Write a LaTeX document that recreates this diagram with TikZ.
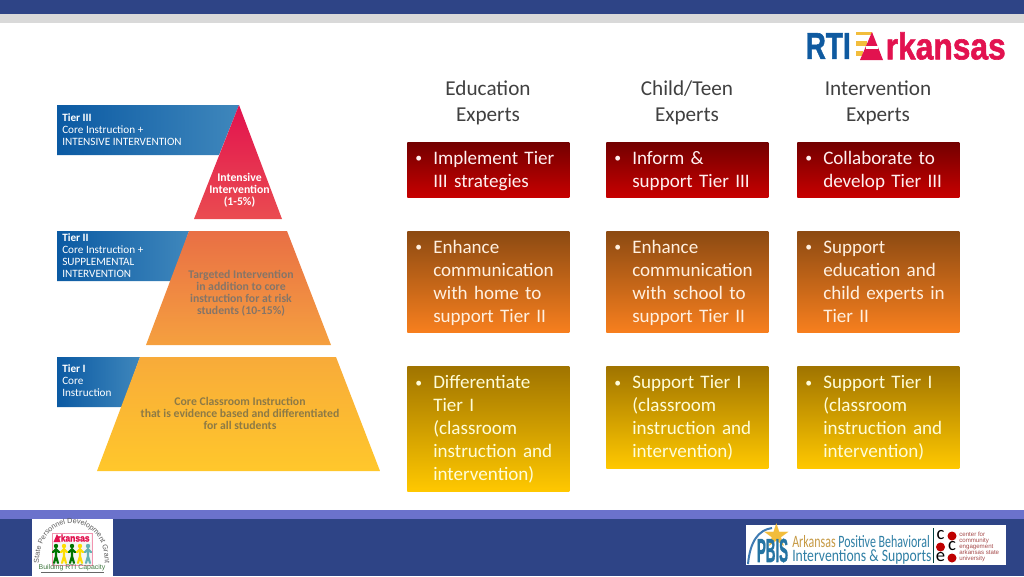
\documentclass[tikz,border=0pt]{standalone}
\usepackage{fontspec}
\usepackage{graphicx}
\setmainfont{Carlito}
\newfontfamily\logofont[FakeBold=1.6]{Liberation Sans Bold}
\newfontfamily\sealfont{Liberation Sans}
\usetikzlibrary{decorations.text}
\definecolor{barblue}{HTML}{2E4486}
\definecolor{barlav}{HTML}{6B72CC}
\definecolor{bargrey}{HTML}{D9D9D9}
\definecolor{bannerdark}{HTML}{0B5AA3}
\definecolor{bannerlight}{HTML}{3F87BC}
\definecolor{logoblue}{HTML}{0F5AA0}
\definecolor{logored}{HTML}{E2124F}
\definecolor{logoyellow}{HTML}{F2BD3C}
\definecolor{headgrey}{HTML}{404040}
\definecolor{pbisgold}{HTML}{C69A45}
\definecolor{pbisteal}{HTML}{2F7FA5}
\definecolor{orangetop}{HTML}{8C4A12}
\definecolor{orangebot}{HTML}{F77F1E}
\definecolor{yellowtop}{HTML}{A07400}
\definecolor{yellowbot}{HTML}{FFC800}
\definecolor{pyrredbot}{HTML}{EA4C50}
\definecolor{pyrorangetop}{HTML}{E96F45}
\definecolor{pyrorangebot}{HTML}{F5A03F}
\definecolor{pyryellowtop}{HTML}{F8AB3A}
\definecolor{pyryellowbot}{HTML}{FFC72B}
\definecolor{pyrtwotext}{HTML}{857568}
\definecolor{pyronetext}{HTML}{8D7A45}
\newcommand{\bul}[1]{\raisebox{-1.2pt}[\height][\depth]{\makebox[13.5pt][l]{\raisebox{1.4pt}{\scalebox{.72}{\textbullet}}}\begin{tabular}[t]{@{}l@{}}#1\end{tabular}}}
\tikzstyle{cell} = [anchor=north west, align=left, text width=109.5pt, inner xsep=6pt, inner ysep=0pt, font={\fontsize{14.3}{17.25}\selectfont}]
\tikzstyle{redcell} = [cell, text=red!6!white, top color=red!45!black, bottom color=red!78!black, minimum height=41.25pt]
\tikzstyle{orangecell} = [cell, text=orange!12!white, top color=orangetop, bottom color=orangebot, minimum height=75.75pt]
\tikzstyle{yellowcell} = [cell, text=yellow!15!white, top color=yellowtop, bottom color=yellowbot, minimum height=76.5pt]
\tikzstyle{tallcell} = [yellowcell, minimum height=93.75pt]
\tikzstyle{head} = [align=center, text=headgrey, font={\fontsize{15.9}{19.5}\selectfont}]
\tikzstyle{tiertext} = [anchor=north west, align=left, text=white, inner sep=0pt, font={\fontsize{8.4}{9}\selectfont}]
\tikzstyle{banner} = [left color=bannerdark, right color=bannerlight]
\tikzstyle{pyrtext} = [align=center, inner sep=0pt, font={\bfseries\fontsize{8.8}{9}\selectfont}]
\tikzstyle{person} = [line width=1.6pt, line cap=round]

\begin{document}
\begin{tikzpicture}[x=0.75pt,y=-0.75pt]
  \useasboundingbox (0,0) rectangle (1024,576);
  \fill[barblue] (0,0) rectangle (1024,14);
  \fill[bargrey] (0,14) rectangle (1024,23);
  \fill[barlav] (0,510) rectangle (1024,519);
  \fill[barblue] (0,519) rectangle (1024,576);

  \node[logoblue,inner sep=0pt,anchor=east](rti) at (851,46){\logofont\fontsize{28}{28}\selectfont\scalebox{.75}[1]{RTI}};
  \node[logored,inner sep=0pt,anchor=east](rkansas) at (1006,46){\logofont\fontsize{28}{28}\selectfont\scalebox{.85}[1]{rkansas}};
  \fill[logoyellow] (856,32) rectangle (872,35);
  \fill[logoyellow] (856,41) rectangle (867,46);
  \fill[logoyellow] (856,51) rectangle (863,56);
  \fill[logored] (872,32) -- (883,60) -- (860,60) -- cycle;
  \fill[white] (866,46) rectangle (878,49);

  \node[head](eduhead) at (488,103){Education\\Experts};
  \node[head](childhead) at (687,103){Child/Teen\\Experts};
  \node[head](intervhead) at (878,103){Intervention\\Experts};

  \node[redcell](edu3) at (407,142){\bul{Implement Tier\\III strategies}};
  \node[redcell](child3) at (606,142){\bul{Inform \&\\support Tier III}};
  \node[redcell](interv3) at (797,142){\bul{Collaborate to\\develop Tier III}};
  \node[orangecell](edu2) at (407,231){\bul{Enhance\\communication\\with home to\\support Tier II}};
  \node[orangecell](child2) at (606,231){\bul{Enhance\\communication\\with school to\\support Tier II}};
  \node[orangecell](interv2) at (797,231){\bul{Support\\education and\\child experts in\\Tier II}};
  \node[tallcell](edu1) at (407,366){\bul{Differentiate\\Tier I\\(classroom\\instruction and\\intervention)}};
  \node[yellowcell](child1) at (606,366){\bul{Support Tier I\\(classroom\\instruction and\\intervention)}};
  \node[yellowcell](interv1) at (797,366){\bul{Support Tier I\\(classroom\\instruction and\\intervention)}};

  \shade[banner] (57,105) -- (239,105) -- (219,155) -- (57,155) -- cycle;
  \shade[banner] (57,231) -- (189,231) -- (172,281) -- (57,281) -- cycle;
  \shade[banner] (57,357) -- (140,357) -- (122,407) -- (57,407) -- cycle;
  \shade[top color=logored, bottom color=pyrredbot] (239,105) -- (282,219) -- (194,219) -- cycle;
  \shade[top color=pyrorangetop, bottom color=pyrorangebot] (189,231) -- (287,231) -- (331,345) -- (146,345) -- cycle;
  \shade[top color=pyryellowtop, bottom color=pyryellowbot] (140,357) -- (336,357) -- (380,471) -- (97,471) -- cycle;

  \node[tiertext](tier3) at (62,113){\textbf{Tier III}\\Core Instruction +\\INTENSIVE INTERVENTION};
  \node[tiertext](tier2) at (62,233){\textbf{Tier II}\\Core Instruction +\\SUPPLEMENTAL\\INTERVENTION};
  \node[tiertext](tier1) at (62,364.5){\textbf{Tier I}\\Core\\Instruction};
  \node[pyrtext,text=white](pyr3) at (239.5,190.3){Intensive\\Intervention\\(1-5\%)};
  \node[pyrtext,text=pyrtwotext](pyr2) at (241,293.5){Targeted Intervention\\in addition to core\\instruction for at risk\\students (10-15\%)};
  \node[pyrtext,text=pyronetext](pyr1) at (240,413){Core Classroom Instruction\\that is evidence based and differentiated\\for all students};

  \fill[white] (32,519) rectangle (113,576);
  \path[decorate,decoration={text along path,text align=center,text color=black!65,text={|\sealfont\fontsize{5.4}{6}\selectfont|State Personnel Development Grant}}] (39,563) .. controls (39,510) and (105,510) .. (105,563);
  \draw[logored!45!white,fill=black!4] (52,533) rectangle (92,565);
  \fill[white] (53,534) rectangle (91,542);
  \node[logored,inner sep=0pt](sealname) at (73.5,538){\logofont\fontsize{7.5}{8}\selectfont\scalebox{.85}[1]{rkansas}};
  \fill[logored] (57,534) -- (60.5,542) -- (53.5,542) -- cycle;
  \foreach \px/\pc in {56/green!45!black,64/yellow!80!orange,72/green!45!black,80/yellow!80!orange,88/teal!60!white}{
    \fill[\pc] (\px,546) circle (2.2);
    \draw[person,\pc] (\px,549) -- (\px,556) (\px-3,552) -- (\px,549) -- (\px+3,552) (\px-2,563) -- (\px,556) -- (\px+2,563);
  }
  \node[inner sep=0pt,text=green!30!black!75](sealfoot) at (72,568){\sealfont\fontsize{5.2}{6}\selectfont Building RTI Capacity};
  \draw[black!60,line width=0.3pt] (41,572.5) -- (104,572.5);

  \fill[white] (746,525) rectangle (1006,565);
  \draw[logoblue!80!white,line width=1.5pt] (748,564) .. controls (750,542) and (758,530) .. (772,528);
  \node[logoyellow,inner sep=0pt](pbisstar) at (777,535){\fontspec{DejaVu Sans}\fontsize{24}{24}\selectfont ★};
  \node[pbisteal!70!logoblue,inner sep=0pt](pbis) at (772.5,550.5){\logofont\fontsize{25}{25}\selectfont\scalebox{.4}[1]{PBIS}};
  \node[inner sep=0pt,anchor=west](pbisone) at (792,542){\fontsize{13}{13}\selectfont\scalebox{.69}[1]{\textcolor{pbisgold}{Arkansas} \textcolor{pbisteal}{Positive Behavioral}}};
  \node[inner sep=0pt,anchor=west](pbistwo) at (792,557){\fontsize{13}{13}\selectfont\scalebox{.79}[1]{\textcolor{pbisteal}{Interventions \& Supports}}};
  \draw[black!50!teal,line width=0.5pt] (933,528) -- (933,563);
  \node[inner sep=0pt](coec) at (940.5,535.5){\fontsize{14}{14}\selectfont c};
  \node[inner sep=0pt](coeo) at (952,546.5){\fontsize{14}{14}\selectfont c};
  \node[inner sep=0pt](coee) at (940.5,557.5){\fontsize{14}{14}\selectfont e};
  \fill[red!75!black] (952,536) circle (4.5);
  \fill[red!75!black] (940.5,547) circle (4.5);
  \fill[red!75!black] (952,558) circle (4.5);
  \node[inner sep=0pt,anchor=west,align=left,text=black!50!red!70,font={\sealfont\fontsize{4.6}{4.5}\selectfont}](coename) at (959,546.5){center for\\community\\engagement\\arkansas state\\university};
\end{tikzpicture}
\end{document}
